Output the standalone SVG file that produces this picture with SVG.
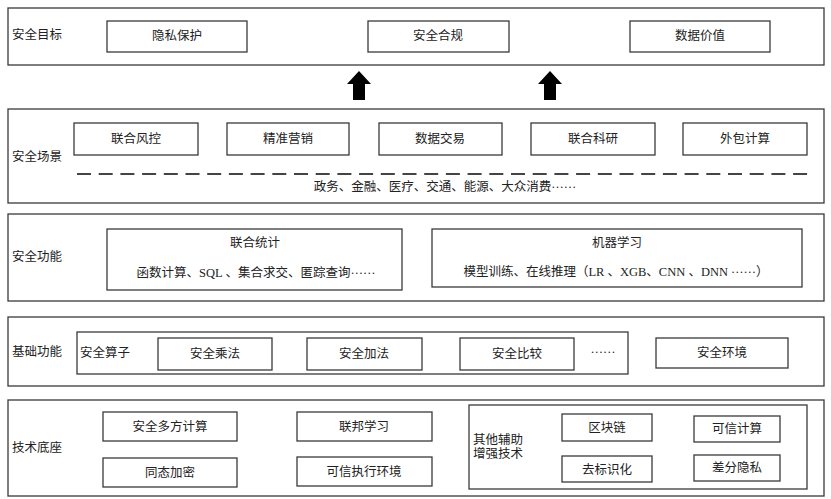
<svg xmlns="http://www.w3.org/2000/svg" width="831" height="499" viewBox="0 0 831 499">
<style>
rect{fill:#fff;stroke:#3a3a3a;stroke-width:1.3}
text{font-family:"Liberation Serif","Noto Sans CJK SC",serif;font-size:12.5px;fill:#222;dominant-baseline:central}
.c{text-anchor:middle}
</style>
<rect x="0" y="0" width="831" height="499" style="fill:#fff;stroke:none"/>
<g id="layer-goal">
<rect x="8" y="8" width="816" height="57"/>
<text x="12" y="35">安全目标</text>
<g id="g-privacy"><rect x="107" y="21" width="140" height="31"/><text class="c" x="177" y="36">隐私保护</text></g>
<g id="g-compliance"><rect x="368" y="21" width="141" height="31"/><text class="c" x="438" y="36">安全合规</text></g>
<g id="g-value"><rect x="630" y="21" width="140" height="31"/><text class="c" x="700" y="36">数据价值</text></g>
</g>
<g id="connectors">
<polygon points="359,71 371,84 365,84 365,100 353,100 353,84 347,84" fill="#000"/>
<polygon points="550,71 562,84 556,84 556,100 544,100 544,84 538,84" fill="#000"/>
</g>
<g id="layer-scene">
<rect x="8" y="109" width="816" height="94"/>
<text x="12" y="157">安全场景</text>
<g id="s1"><rect x="74" y="123" width="124" height="32"/><text class="c" x="136" y="139">联合风控</text></g>
<g id="s2"><rect x="227" y="123" width="122" height="32"/><text class="c" x="288" y="139">精准营销</text></g>
<g id="s3"><rect x="379" y="123" width="123" height="32"/><text class="c" x="440" y="139">数据交易</text></g>
<g id="s4"><rect x="531" y="123" width="124" height="32"/><text class="c" x="593" y="139">联合科研</text></g>
<g id="s5"><rect x="683" y="123" width="124" height="32"/><text class="c" x="745" y="139">外包计算</text></g>
<line x1="77" y1="174" x2="810" y2="174" stroke="#444" stroke-width="2" stroke-dasharray="14,7.7"/>
<text class="c" x="445" y="187">政务、金融、医疗、交通、能源、大众消费<tspan dy="-3.5">……</tspan></text>
</g>
<g id="layer-function">
<rect x="8" y="214" width="816" height="87"/>
<text x="12" y="257">安全功能</text>
<g id="f-stat"><rect x="107" y="229" width="295" height="61"/>
<text class="c" x="255" y="243">联合统计</text>
<text class="c" x="256" y="273">函数计算、SQL 、集合求交、匿踪查询<tspan dy="-3.5">……</tspan></text></g>
<g id="f-ml"><rect x="432" y="229" width="370" height="58"/>
<text class="c" x="617" y="243">机器学习</text>
<text class="c" x="616" y="272">模型训练、在线推理（LR 、XGB、CNN 、DNN <tspan dy="-3.5">……</tspan><tspan dy="3.5">）</tspan></text></g>
</g>
<g id="layer-basic">
<rect x="8" y="317" width="816" height="69"/>
<text x="12" y="352">基础功能</text>
<g id="ops"><rect x="77" y="332" width="551" height="42"/>
<text x="80" y="353">安全算子</text>
<g id="op-mul"><rect x="158" y="338" width="114" height="32"/><text class="c" x="215" y="354">安全乘法</text></g>
<g id="op-add"><rect x="307" y="338" width="115" height="32"/><text class="c" x="364" y="354">安全加法</text></g>
<g id="op-cmp"><rect x="460" y="338" width="114" height="32"/><text class="c" x="517" y="354">安全比较</text></g>
<text class="c" x="603" y="349">……</text></g>
<g id="env"><rect x="656" y="338" width="132" height="30"/><text class="c" x="722" y="353">安全环境</text></g>
</g>
<g id="layer-tech">
<rect x="8" y="400" width="816" height="96"/>
<text x="12" y="448">技术底座</text>
<g id="t-mpc"><rect x="103" y="412" width="134" height="29"/><text class="c" x="170" y="427">安全多方计算</text></g>
<g id="t-he"><rect x="103" y="458" width="134" height="29"/><text class="c" x="170" y="473">同态加密</text></g>
<g id="t-fl"><rect x="297" y="412" width="135" height="29"/><text class="c" x="364" y="427">联邦学习</text></g>
<g id="t-tee"><rect x="297" y="457" width="135" height="29"/><text class="c" x="364" y="472">可信执行环境</text></g>
<g id="aux"><rect x="469" y="405" width="338" height="84"/>
<text x="473" y="440">其他辅助</text>
<text x="473" y="454">增强技术</text>
<g id="a-bc"><rect x="562" y="414" width="90" height="27"/><text class="c" x="607" y="428">区块链</text></g>
<g id="a-tc"><rect x="694" y="416" width="86" height="26"/><text class="c" x="737" y="429">可信计算</text></g>
<g id="a-deid"><rect x="562" y="456" width="90" height="26"/><text class="c" x="607" y="470">去标识化</text></g>
<g id="a-dp"><rect x="694" y="455" width="86" height="26"/><text class="c" x="737" y="468">差分隐私</text></g>
</g>
</g>
</svg>
